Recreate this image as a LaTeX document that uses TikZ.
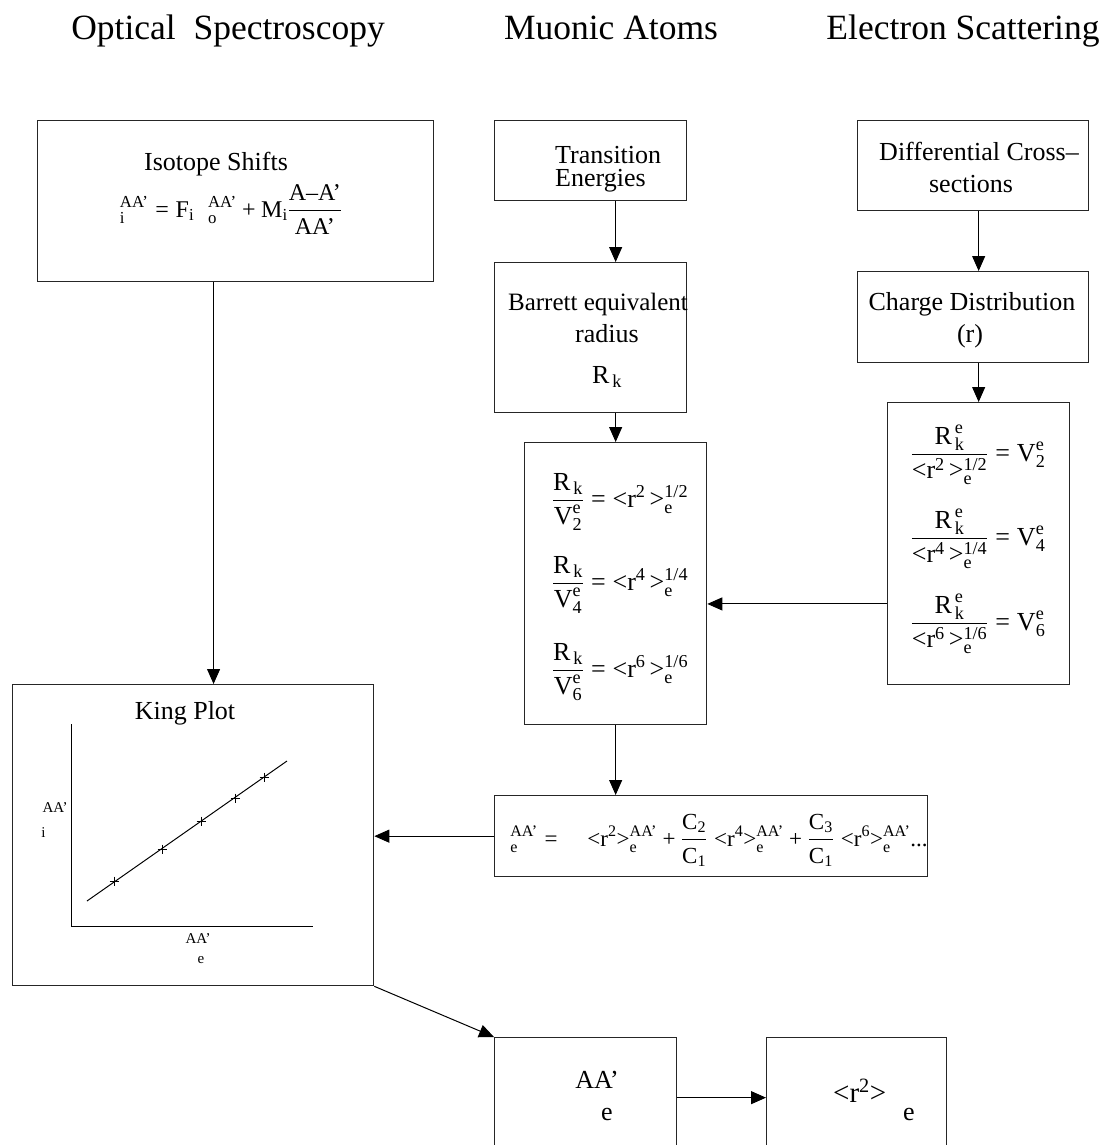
\documentclass[tikz,border=0pt]{standalone}
\usepackage{amsmath}
\usepackage{fontspec}
\setmainfont{Liberation Serif}
\usetikzlibrary{arrows.meta,calc}
\newcommand\T[1]{\text{#1}}
\newcommand\Eq{\mathrel{\text{=}}}
\newcommand\Pl{\mathbin{\text{+}}}
\begin{document}
\begin{tikzpicture}[x=1pt,y=-1pt,
  box/.style={draw=black!85, line width=1.3pt, inner sep=0pt, anchor=north west},
  arr/.style={line width=1pt, -{Triangle[length=15pt,width=13pt]}},
  ln/.style={line width=1pt},
  title/.style={font=\fontsize{35.5}{40}\selectfont, anchor=base, inner sep=0pt},
  lbl/.style={font=\fontsize{26}{29}\selectfont, anchor=base, inner sep=0pt},
  frm/.style={font=\fontsize{24}{27}\selectfont, anchor=base, inner sep=0pt},
  small/.style={font=\fontsize{15}{17}\selectfont, anchor=base, inner sep=0pt},
]
\useasboundingbox (0,0) rectangle (1104,1145);
\clip (0,0) rectangle (1104,1145);

% titles
\node[title] (t1) at (228,40) {Optical\ \ Spectroscopy};
\node[title] (t2) at (611,40) {Muonic Atoms};
\node[title] (t3) at (963,40) {Electron Scattering};

% boxes
\node[box, minimum width=396pt, minimum height=161pt] (iso) at (37,120) {};
\node[box, minimum width=192pt, minimum height=80pt] (trans) at (494,120) {};
\node[box, minimum width=231pt, minimum height=90pt] (diff) at (857,120) {};
\node[box, minimum width=192pt, minimum height=150pt] (barrett) at (494,262) {};
\node[box, minimum width=231pt, minimum height=91pt] (charge) at (857,271) {};
\node[box, minimum width=182pt, minimum height=282pt] (beq) at (524,442) {};
\node[box, minimum width=182pt, minimum height=282pt] (elec) at (887,402) {};
\node[box, minimum width=433pt, minimum height=81pt] (sum) at (494,795) {};
\node[box, minimum width=361pt, minimum height=301pt] (king) at (12,684) {};
\node[box, minimum width=182pt, minimum height=120pt] (aae) at (494,1037) {};
\node[box, minimum width=180pt, minimum height=120pt] (rr) at (766,1037) {};

% isotope shifts
\node[lbl] (isot) at (216,170) {Isotope Shifts};
\node[frm] (isof) at (231,217) {$ {}^{\T{AA’}}_{\T{i}}\Eq\T{F}_{\T{i}}\;\;{}^{\T{AA’}}_{\T{o}}\Pl\T{M}_{\T{i}}\dfrac{\T{A–A’}}{\T{AA’}} $};

% transition energies
\node[lbl, anchor=base west] (tr1) at (555,163) {Transition};
\node[lbl, anchor=base west] (tr2) at (555,186) {Energies};

% differential
\node[lbl] (df1) at (979,160) {Differential Cross–};
\node[lbl] (df2) at (971,192) {sections};

% barrett
\node[lbl, font=\fontsize{25}{28}\selectfont] (ba1) at (598,310) {Barrett equivalent};
\node[lbl] (ba2) at (607,342) {radius};
\node[lbl] (ba3) at (607,383) {$\T{R}_{\,\T{k}}$};

% charge
\node[lbl] (ch1) at (972,310) {Charge Distribution};
\node[lbl] (ch2) at (970,342) {(r)};

% barrett equations
\node[lbl] (be1) at (620,507) {$\dfrac{\T{R}_{\,\T{k}}}{\T{V}^{\T{e}}_{\T{2}}}\Eq\T{<r}^{\T{2}}\,\T{>}^{\T{1/2}}_{\T{e}}$};
\node[lbl] (be2) at (620,590) {$\dfrac{\T{R}_{\,\T{k}}}{\T{V}^{\T{e}}_{\T{4}}}\Eq\T{<r}^{\T{4}}\,\T{>}^{\T{1/4}}_{\T{e}}$};
\node[lbl] (be3) at (620,677) {$\dfrac{\T{R}_{\,\T{k}}}{\T{V}^{\T{e}}_{\T{6}}}\Eq\T{<r}^{\T{6}}\,\T{>}^{\T{1/6}}_{\T{e}}$};

% electron equations
\node[lbl] (ee1) at (978,461) {$\dfrac{\T{R}^{\,\T{e}}_{\,\T{k}}}{\T{<r}^{\T{2}}\,\T{>}^{\T{1/2}}_{\T{e}}}\Eq\T{V}^{\T{e}}_{\T{2}}$};
\node[lbl] (ee2) at (978,545) {$\dfrac{\T{R}^{\,\T{e}}_{\,\T{k}}}{\T{<r}^{\T{4}}\,\T{>}^{\T{1/4}}_{\T{e}}}\Eq\T{V}^{\T{e}}_{\T{4}}$};
\node[lbl] (ee3) at (978,630) {$\dfrac{\T{R}^{\,\T{e}}_{\,\T{k}}}{\T{<r}^{\T{6}}\,\T{>}^{\T{1/6}}_{\T{e}}}\Eq\T{V}^{\T{e}}_{\T{6}}$};

% sum formula
\node[frm, font=\fontsize{23}{26}\selectfont] (sf) at (719,846) {${}^{\T{AA’}}_{\T{e}}\Eq\quad\T{<r}^{\T{2}}\T{>}^{\T{AA’}}_{\T{e}}\Pl\dfrac{\T{C}_{\T{2}}}{\T{C}_{\T{1}}}\;\T{<r}^{\T{4}}\T{>}^{\T{AA’}}_{\T{e}}\Pl\dfrac{\T{C}_{\T{3}}}{\T{C}_{\T{1}}}\;\T{<r}^{\T{6}}\T{>}^{\T{AA’}}_{\T{e}}\T{...}$};

% king plot
\node[lbl] (kt) at (185,719) {King Plot};
\draw[ln] (71,724) -- (71,926) -- (313,926);
\draw[ln] (87,901) -- (287,761);
\foreach \p in {(114,881),(162,849),(201,821),(235,798),(264,777)}
  \draw[ln] \p ++(-4.5,0) -- ++(9,0) \p ++(0,-4.5) -- ++(0,9);
\node[small] (ky1) at (55,812) {AA’};
\node[small] (ky2) at (43.5,837) {i};
\node[small] (kx1) at (198,943) {AA’};
\node[small] (kx2) at (201,963) {e};

% bottom boxes
\node[lbl] (aa1) at (597,1088) {AA’};
\node[lbl] (aa2) at (607,1120) {e};
\node[lbl, font=\fontsize{29}{32}\selectfont, anchor=base west] (rr1) at (833,1102) {$\T{<r}^{\T{2}}\T{>}$};
\node[lbl] (rr2) at (909,1120) {e};

% connectors
\coordinate (isoout) at ($(iso.south west)!0.4444!(iso.south east)$);
\draw[arr] (isoout) -- (isoout |- king.north);
\draw[arr] (beq.north |- trans.south) -- (beq.north |- barrett.north);
\draw[arr] (beq.north |- barrett.south) -- (beq.north);
\draw[arr] (elec.north |- diff.south) -- (elec.north |- charge.north);
\draw[arr] (elec.north |- charge.south) -- (elec.north);
\coordinate (elecin) at ($(elec.north west)!0.7128!(elec.south west)$);
\draw[arr] (elecin) -- (elecin -| beq.east);
\draw[arr] (beq.south) -- (beq.south |- sum.north);
\draw[arr] (sum.west) -- (sum.west -| king.east);
\draw[arr] (king.south east) -- (aae.north west);
\draw[arr] (aae.east) -- (rr.west);
\end{tikzpicture}
\end{document}
